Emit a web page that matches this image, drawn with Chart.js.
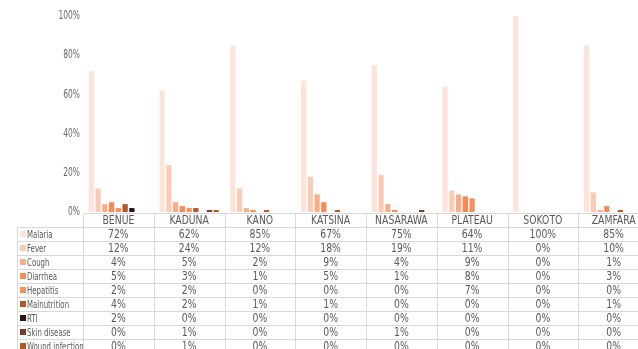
<!DOCTYPE html>
<html>
<head>
<meta charset="utf-8">
<script src="https://cdn.jsdelivr.net/npm/chart.js@4/dist/chart.umd.min.js"></script>
<style>
  html, body { margin: 0; padding: 0; background: #fff; overflow: hidden; }
  #wrap { position: relative; width: 660px; height: 349px; }
</style>
</head>
<body>
<div id="wrap"><canvas id="chart" width="660" height="349"></canvas></div>
<script>
"use strict";

// States along the x axis (last column runs past the edge)
const states = ["BENUE", "KADUNA", "KANO", "KATSINA", "NASARAWA", "PLATEAU", "SOKOTO", "ZAMFARA"];

// Share of cases per condition, percent, one entry per state
const malaria      = [72, 62, 85, 67, 75, 64, 100, 85];
const fever        = [12, 24, 12, 18, 19, 11, 0, 10];
const cough        = [4, 5, 2, 9, 4, 9, 0, 1];
const diarrhea     = [5, 3, 1, 5, 1, 8, 0, 3];
const hepatitis    = [2, 2, 0, 0, 0, 7, 0, 0];
const malnutrition = [4, 2, 1, 1, 0, 0, 0, 1];
const rti          = [2, 0, 0, 0, 0, 0, 0, 0];
const skinDisease  = [0, 1, 0, 0, 1, 0, 0, 0];
const wound        = [0, 1, 0, 0, 0, 0, 0, 0];

const yTicks = [0, 20, 40, 60, 80, 100];

const seriesNames  = ["Malaria", "Fever", "Cough", "Diarrhea", "Hepatitis", "Malnutrition", "RTI", "Skin disease", "Wound infection"];
const seriesValues = [malaria, fever, cough, diarrhea, hepatitis, malnutrition, rti, skinDisease, wound];
const seriesColors = ["#fde4da", "#fccbb5", "#fbad8b", "#f68a52", "#f98f59", "#b35a24", "#2a140d", "#773b25", "#b2571d"];

const FONT = "'DejaVu Sans Condensed', 'Liberation Sans', sans-serif";
const TEXT = "#595959";
const GRID = "#d9d9d9";

const ROW_H = 14;
const TABLE_LEFT = 17;

// No narrow face is installed, so squeeze the condensed one horizontally.
function narrowText(ctx, str, x, y, align, squeeze) {
  ctx.save();
  ctx.translate(x, y);
  ctx.scale(squeeze, 1);
  ctx.textAlign = align;
  ctx.fillText(str, 0, 0);
  ctx.restore();
}

// Y tick labels drawn by hand so they can use the squeezed face too.
const yLabelsPlugin = {
  id: "yLabels",
  afterDraw(chart) {
    const { ctx, chartArea, scales } = chart;
    ctx.save();
    ctx.fillStyle = "#666666";
    ctx.font = "12.5px " + FONT;
    ctx.textBaseline = "middle";
    yTicks.forEach((v) => {
      narrowText(ctx, v + "%", chartArea.left - 3, scales.y.getPixelForValue(v), "right", 0.67);
    });
    ctx.restore();
  },
};

// Draws the data table under the plot: header row of states,
// then one row per condition with a colour key and the values.
const dataTablePlugin = {
  id: "dataTable",
  afterDraw(chart) {
    const { ctx, chartArea, scales } = chart;
    const x = scales.x;
    const colW = (chartArea.right - chartArea.left) / states.length;
    const top = chartArea.bottom + 1;
    const rows = seriesNames.length;
    const bottom = top + ROW_H * (rows + 1);

    ctx.save();
    ctx.strokeStyle = GRID;
    ctx.lineWidth = 1;

    // horizontal rules
    ctx.beginPath();
    ctx.moveTo(chartArea.left, top + 0.5);
    ctx.lineTo(chartArea.right, top + 0.5);
    for (let r = 1; r <= rows + 1; r++) {
      const y = Math.round(top + r * ROW_H) + 0.5;
      ctx.moveTo(TABLE_LEFT, y);
      ctx.lineTo(chartArea.right, y);
    }
    // vertical rules
    for (let c = 0; c <= states.length; c++) {
      const vx = Math.round(chartArea.left + c * colW) + 0.5;
      ctx.moveTo(vx, top);
      ctx.lineTo(vx, bottom);
    }
    ctx.moveTo(TABLE_LEFT + 0.5, top + ROW_H);
    ctx.lineTo(TABLE_LEFT + 0.5, bottom);
    ctx.stroke();

    ctx.fillStyle = TEXT;
    ctx.textBaseline = "middle";
    ctx.font = "12px " + FONT;
    states.forEach((s, i) => {
      narrowText(ctx, s, x.getPixelForValue(i), top + ROW_H / 2 + 1, "center", 0.86);
    });

    seriesNames.forEach((name, r) => {
      const cy = top + ROW_H * (r + 1) + ROW_H / 2 + 1;
      ctx.fillStyle = seriesColors[r];
      ctx.fillRect(TABLE_LEFT + 3, cy - 4, 6, 6);

      // series name, clipped to its cell
      ctx.save();
      ctx.beginPath();
      ctx.rect(TABLE_LEFT, cy - ROW_H / 2, chartArea.left - TABLE_LEFT, ROW_H);
      ctx.clip();
      ctx.fillStyle = TEXT;
      ctx.font = "10.5px " + FONT;
      narrowText(ctx, name, TABLE_LEFT + 10, cy, "left", 0.74);
      ctx.restore();

      ctx.fillStyle = TEXT;
      ctx.font = "12px " + FONT;
      seriesValues[r].forEach((v, i) => {
        narrowText(ctx, v + "%", x.getPixelForValue(i), cy, "center", 0.86);
      });
    });
    ctx.restore();
  },
};

new Chart(document.getElementById("chart"), {
  type: "bar",
  data: {
    labels: states,
    datasets: seriesNames.map((name, i) => ({
      label: name,
      data: seriesValues[i],
      backgroundColor: seriesColors[i],
      categoryPercentage: 0.86,
      barPercentage: 0.78,
    })),
  },
  options: {
    responsive: false,
    animation: false,
    layout: { padding: { top: 16, right: 11, bottom: 137, left: 0 } },
    plugins: {
      legend: { display: false },
      tooltip: { enabled: false },
    },
    scales: {
      x: {
        display: false,
        grid: { display: false },
      },
      y: {
        min: 0,
        max: 100,
        afterFit(scale) { scale.width = 83; },
        afterBuildTicks(scale) { scale.ticks = yTicks.map((v) => ({ value: v })); },
        grid: { display: false, drawTicks: false },
        border: { display: false },
        ticks: { display: false },
      },
    },
  },
  plugins: [yLabelsPlugin, dataTablePlugin],
});
</script>
</body>
</html>
